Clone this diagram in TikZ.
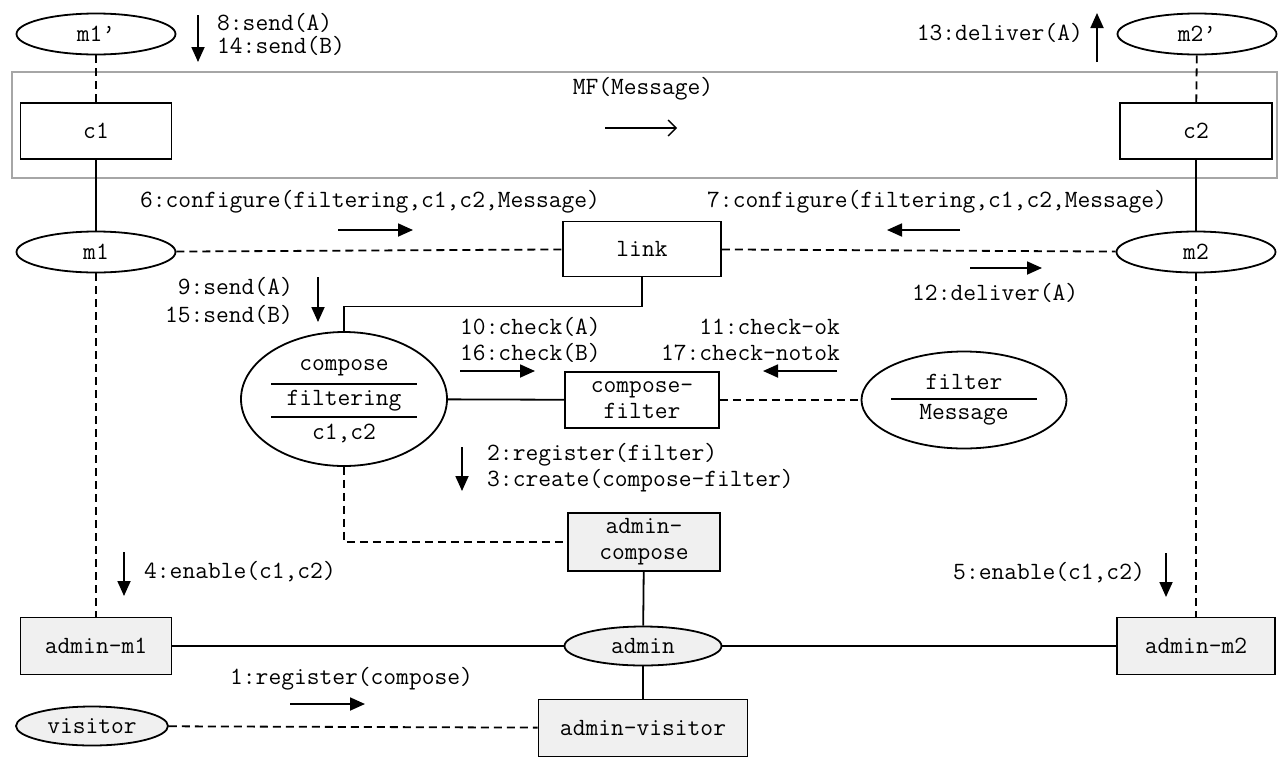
\documentclass[tikz,border=0pt]{standalone}
\usepackage{fontspec}
\usepackage{tikz}
\usetikzlibrary{positioning,arrows.meta,shapes.geometric}

\newcommand{\msgfont}{\fontsize{24.8}{26}\selectfont\ttfamily}

\begin{document}
\begin{tikzpicture}[
  x=1pt, y=-1pt,
  obj/.style={draw, rectangle, line width=1.8pt, align=center, font=\msgfont,
              minimum width=151pt, minimum height=56pt, inner sep=0pt},
  adm/.style={obj, fill=gray!12},
  role/.style={draw, ellipse, line width=1.8pt, font=\msgfont,
               minimum width=159pt, minimum height=41pt, inner sep=0pt},
  msg/.style={font=\msgfont, inner sep=0pt},
  link/.style={line width=1.8pt},
  dlink/.style={line width=1.8pt, dash pattern=on 8pt off 5pt},
  flow/.style={-{Triangle[length=15pt,width=13pt]}, line width=1.8pt},
  dir/.style={-{Straight Barb[length=8pt,width=16pt]}, line width=1.4pt}
]
\useasboundingbox (0,0) rectangle (1287,758);

% top row: ports and the filter frame
\node[draw=gray!70, line width=1.2pt, minimum width=1265pt, minimum height=106pt,
      inner sep=0pt] (mf) at (644.5,125) {};
\node[msg] (mftag) at (643,89) {MF(Message)};
\draw[dir] (605,128) -- (677,128);

\node[role] (m1p) at (96,34) {m1’};
\node[role] (m2p) at (1197,34) {m2’};
\node[obj] (c1) at (96,131) {c1};
\node[obj, minimum width=152pt] (c2) at (1196,131) {c2};

% middle row
\node[role] (m1) at (96,252) {m1};
\node[role] (m2) at (1196,252) {m2};
\node[obj, minimum width=158pt, minimum height=55pt] (lnk) at (642,249) {link};

\node[draw, ellipse, line width=1.8pt, minimum width=206pt, minimum height=134pt]
  (cmp) at (344,399) {};
\node[msg] (cmp1) at (344,368) {compose};
\node[msg] (cmp2) at (344,401) {filtering};
\node[msg] (cmp3) at (344,433) {c1,c2};
\draw[link] (271,384) -- (417,384);
\draw[link] (271,417) -- (417,417);

\node[obj, minimum width=154pt] (cf) at (642,400) {compose-\\filter};

\node[draw, ellipse, line width=1.8pt, minimum width=205pt, minimum height=97pt]
  (flt) at (964,400) {};
\node[msg] (flt1) at (964,382) {filter};
\node[msg] (flt2) at (964,415) {Message};
\draw[link] (891,399) -- (1037,399);

% admin row
\node[adm, minimum width=152pt, minimum height=58pt] (admc) at (644,542) {admin-\\compose};
\node[adm, minimum height=57pt] (am1) at (96,646) {admin-m1};
\node[adm, minimum width=158pt, minimum height=57pt] (am2) at (1196,646) {admin-m2};
\node[role, fill=gray!12, minimum width=157pt, minimum height=39pt] (adm) at (643,646) {admin};
\node[adm, minimum width=209pt, minimum height=57pt] (admv) at (643,728) {admin-visitor};
\node[role, fill=gray!12, minimum width=152pt, minimum height=39pt] (vis) at (92,726) {visitor};

% connectors
\draw[dlink] (m1p) -- (c1);
\draw[dlink] (m2p) -- (c2);
\draw[link] (c1) -- (m1);
\draw[link] (c2) -- (m2);
\draw[dlink] (m1) -- (lnk);
\draw[dlink] (lnk) -- (m2);
\draw[dlink] (m1) -- (am1);
\draw[dlink] (m2) -- (am2);
\draw[link] (lnk.south) -- ++(0,29) -| (cmp.north);
\draw[link] (cmp) -- (cf);
\draw[dlink] (cf) -- (flt);
\draw[dlink] (cmp.south) |- (admc.west);
\draw[link] (admc) -- (adm);
\draw[link] (adm) -- (admv);
\draw[link] (am1) -- (adm);
\draw[link] (adm) -- (am2);
\draw[dlink] (vis) -- (admv);

% messages
\node[msg, anchor=west, align=left, font=\fontsize{24.8}{23}\selectfont\ttfamily]
  (l8) at (217,34) {8:send(A)\\14:send(B)};
\draw[flow] (198,15) -- (198,62);
\node[msg, anchor=east] (l13) at (1083,33) {13:deliver(A)};
\draw[flow] (1097,62) -- (1097,13);

\node[msg, anchor=west] (l6) at (140,202) {6:configure(filtering,c1,c2,Message)};
\draw[flow] (338,230) -- (413,230);
\node[msg, anchor=west] (l7) at (707,202) {7:configure(filtering,c1,c2,Message)};
\draw[flow] (960,230) -- (887,230);
\node[msg, anchor=west] (l12) at (912,293) {12:deliver(A)};
\draw[flow] (970,268) -- (1042,268);

\node[msg, anchor=east, align=right, font=\fontsize{24.8}{28}\selectfont\ttfamily]
  (l9) at (293,301) {9:send(A)\\15:send(B)};
\draw[flow] (318,277) -- (318,322);
\node[msg, anchor=west, align=left] (l10) at (460,340) {10:check(A)\\16:check(B)};
\draw[flow] (460,371) -- (535,371);
\node[msg, anchor=east, align=right] (l11) at (840,340) {11:check-ok\\17:check-notok};
\draw[flow] (837,371) -- (763,371);
\node[msg, anchor=west, align=left] (l2) at (487,468) {2:register(filter)\\3:create(compose-filter)};
\draw[flow] (462,447) -- (462,491);

\node[msg, anchor=west] (l4) at (144,572) {4:enable(c1,c2)};
\draw[flow] (124,552) -- (124,596);
\node[msg, anchor=east] (l5) at (1145,573) {5:enable(c1,c2)};
\draw[flow] (1166,553) -- (1166,597);
\node[msg, anchor=west] (l1) at (230,679) {1:register(compose)};
\draw[flow] (290,704) -- (365,704);
\end{tikzpicture}
\end{document}
